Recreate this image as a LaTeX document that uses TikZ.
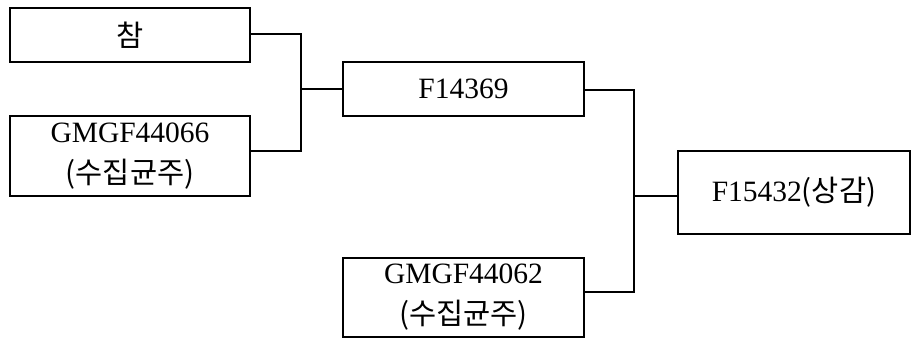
\documentclass[tikz,border=0pt]{standalone}
\usepackage{fontspec}
\setmainfont{Liberation Serif}
\newfontfamily\kr{Noto Sans CJK KR}
\usepackage{tikz}
\usetikzlibrary{positioning, calc}

\begin{document}
\begin{tikzpicture}[x=1pt, y=-1pt,
  strain/.style={draw, line width=2pt, inner sep=0pt, align=center, font=\fontsize{29.5}{41}\selectfont},
  link/.style={line width=2pt}]
  \useasboundingbox (0,0) rectangle (912,341);
  \node[strain, minimum width=240pt, minimum height=54pt] (cham) at (130,35) {\kr 참};
  \node[strain, minimum width=240pt, minimum height=80pt] (g66) at (130,156) {GMGF44066\\{\kr(수집균주)}};
  \node[strain, minimum width=241pt, minimum height=54pt] (f14369) at (463.5,89) {F14369};
  \node[strain, minimum width=241pt, minimum height=79pt] (g62) at (463.5,297.5) {GMGF44062\\{\kr(수집균주)}};
  \node[strain, minimum width=232pt, minimum height=83pt] (f15432) at (794,192.5) {F15432{\kr(상감)}};

  \coordinate (j1) at (301,89);
  \coordinate (j2) at (634,196);

  \draw[link] ([yshift=1pt]cham.east) -| (j1) |- ([yshift=5pt]g66.east);
  \draw[link] (j1) -- (f14369.west);
  \draw[link] ([yshift=-1pt]f14369.east) -| (j2) |- ([yshift=5.5pt]g62.east);
  \draw[link] (j2) -- (j2 -| f15432.west);
\end{tikzpicture}
\end{document}
